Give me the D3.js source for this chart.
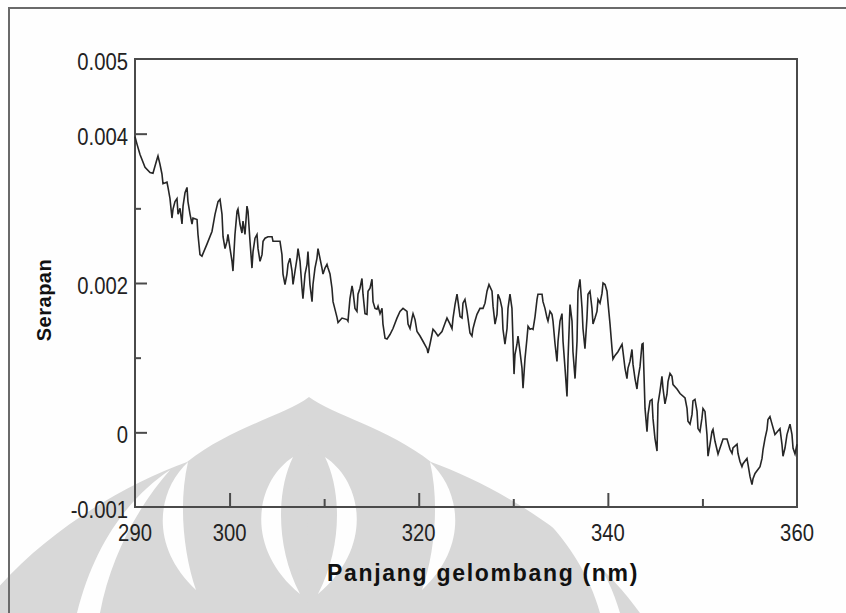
<!DOCTYPE html>
<html>
<head>
<meta charset="utf-8">
<script src="https://cdn.jsdelivr.net/npm/d3@7"></script>
<style>
  html, body { margin: 0; padding: 0; background: #ffffff; }
  svg { display: block; }
</style>
</head>
<body>
<svg id="chart" width="846" height="613"></svg>
<script>
// Absorption spectrum: wavelength (nm) and absorbance
const wavelength = [
  290.00,290.21,290.53,291.06,291.59,291.90,292.33,292.43,292.64,292.85,
  292.96,293.38,293.49,293.70,293.91,294.02,294.23,294.44,294.55,294.76,
  294.97,295.08,295.29,295.50,295.60,295.82,296.03,296.13,296.56,296.66,
  296.87,297.08,297.61,298.14,298.46,298.78,298.99,299.20,299.31,299.52,
  299.73,299.83,300.05,300.26,300.36,300.57,300.79,300.89,301.10,301.31,
  301.42,301.63,301.84,301.95,302.16,302.37,302.48,302.69,302.90,303.01,
  303.22,303.43,303.54,303.75,304.06,304.49,304.59,305.33,305.54,305.65,
  305.86,306.07,306.18,306.39,306.60,306.71,306.92,307.13,307.24,307.45,
  307.66,307.76,307.98,308.19,308.29,308.50,308.72,308.82,309.03,309.24,
  309.35,309.56,309.77,309.88,310.09,310.30,310.41,310.62,310.83,310.94,
  311.36,311.47,311.89,312.42,312.52,312.73,312.95,313.05,313.26,313.47,
  313.58,313.79,314.00,314.11,314.32,314.53,314.64,314.85,315.06,315.17,
  315.38,315.59,315.70,315.91,316.12,316.22,316.44,316.65,316.96,317.28,
  317.70,318.02,318.34,318.76,318.87,319.08,319.29,319.40,319.61,319.82,
  320.14,320.45,320.88,320.98,321.19,321.40,321.51,321.72,322.04,322.46,
  322.78,322.99,323.31,323.52,323.63,323.84,324.05,324.16,324.37,324.58,
  324.68,324.89,325.11,325.21,325.42,325.63,325.74,325.95,326.16,326.48,
  326.80,327.01,327.22,327.43,327.75,327.86,328.07,328.28,328.38,328.60,
  328.81,328.91,329.12,329.34,329.44,329.65,329.86,329.97,330.08,330.18,
  330.39,330.50,330.71,330.92,331.03,331.24,331.45,331.56,331.77,331.98,
  332.09,332.30,332.51,332.61,333.04,333.14,333.35,333.57,333.67,333.88,
  334.09,334.20,334.41,334.62,334.73,334.94,335.15,335.26,335.47,335.68,
  335.79,336.00,336.21,336.31,336.53,336.74,336.84,337.05,337.27,337.37,
  337.58,337.79,337.90,338.11,338.32,338.43,338.64,338.85,338.96,339.17,
  339.38,339.49,339.70,339.91,340.02,340.23,340.44,340.54,340.76,341.07,
  341.50,341.60,341.81,342.02,342.13,342.34,342.55,342.66,342.87,343.08,
  343.19,343.40,343.61,343.72,343.82,343.93,344.14,344.25,344.46,344.67,
  344.77,344.98,345.20,345.30,345.51,345.72,345.83,346.04,346.25,346.36,
  346.57,346.78,346.89,347.31,347.63,348.16,348.37,348.47,348.69,348.90,
  349.00,349.21,349.43,349.53,349.74,349.95,350.06,350.27,350.48,350.59,
  350.80,351.01,351.12,351.33,351.65,351.86,352.18,352.60,352.92,353.13,
  353.23,353.66,353.76,353.97,354.18,354.29,354.71,354.82,355.03,355.24,
  355.35,355.56,356.09,356.30,356.41,356.62,356.83,356.93,357.14,357.36,
  357.67,358.20,358.41,358.52,358.73,358.94,359.26,359.47,359.58,359.79,
  360.00
];

const absorbance = [
  0.00396,0.00386,0.00372,0.00355,0.00348,0.00347,0.00366,0.00370,0.00359,0.00346,
  0.00333,0.00335,0.00328,0.00313,0.00287,0.00299,0.00309,0.00313,0.00292,0.00300,
  0.00279,0.00303,0.00321,0.00328,0.00309,0.00292,0.00279,0.00287,0.00285,0.00265,
  0.00238,0.00236,0.00252,0.00269,0.00292,0.00309,0.00312,0.00292,0.00262,0.00246,
  0.00256,0.00265,0.00246,0.00229,0.00216,0.00265,0.00296,0.00299,0.00279,0.00267,
  0.00283,0.00265,0.00303,0.00296,0.00256,0.00220,0.00242,0.00260,0.00265,0.00246,
  0.00229,0.00238,0.00256,0.00260,0.00262,0.00262,0.00256,0.00256,0.00238,0.00212,
  0.00198,0.00212,0.00225,0.00233,0.00216,0.00198,0.00216,0.00233,0.00246,0.00229,
  0.00193,0.00179,0.00212,0.00225,0.00242,0.00198,0.00175,0.00198,0.00220,0.00233,
  0.00246,0.00233,0.00220,0.00212,0.00220,0.00225,0.00220,0.00212,0.00193,0.00175,
  0.00154,0.00147,0.00153,0.00151,0.00149,0.00179,0.00196,0.00189,0.00166,0.00162,
  0.00185,0.00193,0.00206,0.00185,0.00159,0.00158,0.00189,0.00193,0.00205,0.00175,
  0.00166,0.00165,0.00169,0.00159,0.00166,0.00145,0.00126,0.00125,0.00131,0.00139,
  0.00153,0.00162,0.00166,0.00162,0.00145,0.00139,0.00153,0.00159,0.00151,0.00135,
  0.00129,0.00122,0.00112,0.00106,0.00118,0.00131,0.00138,0.00135,0.00129,0.00135,
  0.00146,0.00153,0.00145,0.00139,0.00153,0.00171,0.00185,0.00175,0.00155,0.00153,
  0.00173,0.00178,0.00162,0.00153,0.00133,0.00129,0.00139,0.00149,0.00158,0.00166,
  0.00166,0.00173,0.00189,0.00198,0.00189,0.00169,0.00145,0.00158,0.00185,0.00178,
  0.00166,0.00138,0.00118,0.00139,0.00166,0.00185,0.00166,0.00122,0.00078,0.00104,
  0.00118,0.00129,0.00108,0.00086,0.00059,0.00099,0.00126,0.00142,0.00138,0.00139,
  0.00138,0.00155,0.00178,0.00185,0.00185,0.00175,0.00166,0.00153,0.00149,0.00162,
  0.00158,0.00149,0.00119,0.00095,0.00122,0.00149,0.00159,0.00122,0.00086,0.00048,
  0.00099,0.00171,0.00149,0.00108,0.00072,0.00122,0.00189,0.00205,0.00166,0.00139,
  0.00112,0.00153,0.00185,0.00189,0.00166,0.00145,0.00153,0.00162,0.00178,0.00173,
  0.00186,0.00200,0.00198,0.00189,0.00173,0.00145,0.00112,0.00098,0.00103,0.00108,
  0.00118,0.00108,0.00086,0.00072,0.00086,0.00095,0.00111,0.00091,0.00072,0.00058,
  0.00072,0.00088,0.00118,0.00119,0.00078,0.00032,0.00001,0.00024,0.00042,0.00044,
  0.00019,-0.00008,-0.00025,0.00038,0.00055,0.00075,0.00059,0.00038,0.00051,0.00068,
  0.00079,0.00075,0.00064,0.00058,0.00052,0.00046,0.00032,0.00015,0.00011,0.00024,
  0.00042,0.00044,0.00028,0.00005,0.00001,0.00019,0.00032,0.00028,-0.00003,-0.00032,
  -0.00016,0.00001,0.00004,-0.00012,-0.00029,-0.00021,-0.00009,-0.00009,-0.00023,-0.00028,
  -0.00021,-0.00016,-0.00028,-0.00039,-0.00046,-0.00042,-0.00035,-0.00043,-0.00059,-0.00070,
  -0.00062,-0.00055,-0.00046,-0.00035,-0.00023,-0.00008,0.00004,0.00017,0.00021,0.00011,
  -0.00003,0.00005,-0.00016,-0.00032,-0.00021,-0.00003,0.00011,-0.00003,-0.00021,-0.00029,
  -0.00016
];

// Axes
const xDomain = [290, 360];
const yDomain = [-0.001, 0.005];
const xMajorTicks = [300, 320, 340];
const xMinorTicks = [310, 330, 350];
const xTickLabels = [290, 300, 320, 340, 360];
const yMajorTicks = [0.004, 0.002, 0];
const yMinorTicks = [0.003, 0.001];
const yTickLabels = [0.005, 0.004, 0.002, 0, -0.001];
const xTitle = "Panjang gelombang (nm)";
const yTitle = "Serapan";

const svg = d3.select("#chart");
const W = 846, H = 613;
const plot = { left: 135, right: 797, top: 59, bottom: 507 };

const x = d3.scaleLinear().domain(xDomain).range([plot.left, plot.right]);
const y = d3.scaleLinear().domain(yDomain).range([plot.bottom, plot.top]);

const axisColor = "#4a4a4a";
const paper = "#fefefe";
const labelFont = "'Liberation Sans', Arial, Helvetica, sans-serif";

svg.append("rect").attr("width", W).attr("height", H).attr("fill", paper);

// Faint emblem in the background: grey body with white petal cuts
const mark = svg.append("g").attr("fill", "#d8d8d8");
const halfBody = "M309,397 C285,415 230,428 187,462 C120,486 30,540 -22,613 L311,613 Z";
mark.append("path").attr("d", halfBody);
mark.append("path").attr("d", halfBody).attr("transform", "translate(618,0) scale(-1,1)");

const cuts = [
  // left inner petal edge
  "M188,462 C158,490 148,545 196,590 C184,555 178,505 188,462 Z",
  // right inner petal edge
  "M430,462 C460,490 470,545 422,590 C434,555 440,505 430,462 Z",
  // left outer petal edge
  "M170,470 C128,498 94,545 77,613 L100,613 C110,560 135,510 170,470 Z",
  // right outer petal edge
  "M515,494 C556,522 588,568 600,613 L620,613 C606,562 570,518 515,494 Z",
  // central lens edges
  "M293,457 C255,482 244,548 300,594 C276,548 276,492 293,457 Z",
  "M325,457 C363,482 374,548 318,594 C342,548 342,492 325,457 Z"
];
cuts.forEach(d => mark.append("path").attr("d", d).attr("fill", paper));

// Outer frame (top and left edges)
svg.append("path")
  .attr("d", `M9,${H} V8 H${W}`)
  .attr("fill", "none")
  .attr("stroke", "#6a6a6a")
  .attr("stroke-width", 2);

// Plot box
svg.append("rect")
  .attr("x", plot.left).attr("y", plot.top)
  .attr("width", plot.right - plot.left)
  .attr("height", plot.bottom - plot.top)
  .attr("fill", "none")
  .attr("stroke", axisColor)
  .attr("stroke-width", 2);

// Tick marks pointing into the plot
function tickAxis(axis, ticks, size, transform) {
  const g = svg.append("g").attr("transform", transform)
    .call(axis.tickValues(ticks).tickSize(size).tickFormat(""));
  g.select(".domain").remove();
  g.selectAll(".tick line").attr("stroke", axisColor).attr("stroke-width", 2);
  return g;
}
tickAxis(d3.axisBottom(x), xMajorTicks, -14, `translate(0,${plot.bottom})`);
tickAxis(d3.axisBottom(x), xMinorTicks, -8, `translate(0,${plot.bottom})`);
tickAxis(d3.axisLeft(y), yMajorTicks, -12, `translate(${plot.left},0)`);
tickAxis(d3.axisLeft(y), yMinorTicks, -6, `translate(${plot.left},0)`);

// Tick labels (condensed digits)
const fmt = v => String(v);
svg.append("g").selectAll("text").data(xTickLabels).join("text")
  .attr("transform", d => `translate(${x(d)},541) scale(0.88,1)`)
  .attr("text-anchor", "middle")
  .attr("font-family", labelFont)
  .attr("font-size", 23)
  .attr("fill", "#222")
  .text(fmt);

svg.append("g").selectAll("text").data(yTickLabels).join("text")
  .attr("transform", d => `translate(${plot.left - 7},${y(d) + 11}) scale(0.88,1)`)
  .attr("text-anchor", "end")
  .attr("font-family", labelFont)
  .attr("font-size", 23)
  .attr("fill", "#222")
  .text(fmt);

// Spectrum line
const line = d3.line()
  .x(i => x(wavelength[i]))
  .y(i => y(absorbance[i]));
svg.append("path")
  .attr("d", line(d3.range(wavelength.length)))
  .attr("fill", "none")
  .attr("stroke", "#262626")
  .attr("stroke-width", 1.6)
  .attr("stroke-linejoin", "miter");

// Axis titles
svg.append("text")
  .attr("x", 327).attr("y", 581)
  .attr("font-family", labelFont)
  .attr("font-weight", "bold")
  .attr("font-size", 23)
  .attr("letter-spacing", 1.7)
  .attr("fill", "#111")
  .text(xTitle);

svg.append("text")
  .attr("transform", "translate(51,300) rotate(-90)")
  .attr("text-anchor", "middle")
  .attr("font-family", labelFont)
  .attr("font-weight", "bold")
  .attr("font-size", 20)
  .attr("letter-spacing", 0.5)
  .attr("fill", "#111")
  .text(yTitle);
</script>
</body>
</html>
